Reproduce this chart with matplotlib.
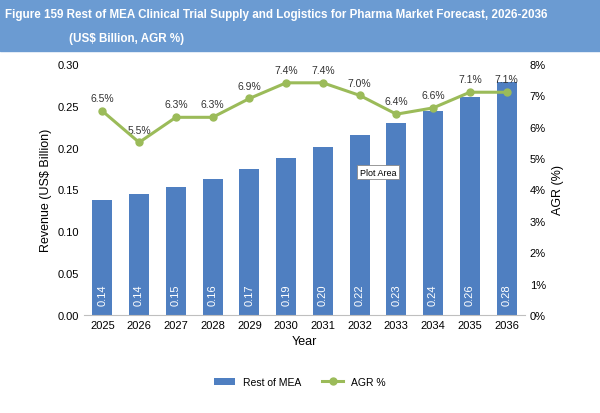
import matplotlib.pyplot as plt
import numpy as np

plt.rcParams['font.family'] = ['Liberation Sans', 'DejaVu Sans']

years = ['2025', '2026', '2027', '2028', '2029', '2030', '2031', '2032', '2033', '2034', '2035', '2036']
revenue = [0.137, 0.144, 0.153, 0.163, 0.174, 0.187, 0.201, 0.215, 0.229, 0.244, 0.261, 0.279]
rev_labels = ['0.14', '0.14', '0.15', '0.16', '0.17', '0.19', '0.20', '0.22', '0.23', '0.24', '0.26', '0.28']
agr = [6.5, 5.5, 6.3, 6.3, 6.9, 7.4, 7.4, 7.0, 6.4, 6.6, 7.1, 7.1]

fig = plt.figure(figsize=(6, 4.14), dpi=100)
fig.patch.set_facecolor('white')

# title banner
fig.patches.append(plt.Rectangle((0, 0.875), 1, 0.125, transform=fig.transFigure,
                                 color='#6b9bd2', zorder=0))
fig.text(0.008, 0.963, 'Figure 159 Rest of MEA Clinical Trial Supply and Logistics for Pharma Market Forecast, 2026-2036',
         color='white', fontsize=8.4, fontweight='bold', va='center', ha='left')
fig.text(0.115, 0.905, '(US$ Billion, AGR %)', color='white', fontsize=8.4,
         fontweight='bold', va='center', ha='left')

ax = fig.add_axes([0.14, 0.237, 0.735, 0.606])
x = np.arange(len(years))
bars = ax.bar(x, revenue, width=0.55, color='#4f7fc1', label='Rest of MEA', zorder=2)
for xi, v, lab in zip(x, revenue, rev_labels):
    ax.text(xi, 0.012, lab, rotation=90, color='white', fontsize=8,
            ha='center', va='bottom', zorder=3)
ax.set_ylim(0, 0.30)
ax.set_yticks(np.arange(0, 0.301, 0.05))
ax.set_yticklabels([f'{v:.2f}' for v in np.arange(0, 0.301, 0.05)], fontsize=8)
ax.set_xticks(x)
ax.set_xticklabels(years, fontsize=8)
ax.set_xlim(-0.5, len(years) - 0.5)
ax.set_ylabel('Revenue (US$ Billion)', fontsize=9)
ax.set_xlabel('Year', fontsize=9)
for s in ['top', 'right', 'left']:
    ax.spines[s].set_visible(False)
ax.spines['bottom'].set_color('#bfbfbf')
ax.tick_params(length=0)

ax2 = ax.twinx()
line, = ax2.plot(x, agr, color='#9bbb59', marker='o', markersize=5, linewidth=2.2,
                 label='AGR %', zorder=4)
for xi, v in zip(x, agr):
    ax2.text(xi, v + 0.25, f'{v:.1f}%', ha='center', va='bottom', fontsize=7.5, color='#333333')
ax2.set_ylim(0, 8)
ax2.set_yticks(range(0, 9))
ax2.set_yticklabels([f'{i}%' for i in range(0, 9)], fontsize=8)
ax2.set_ylabel('AGR (%)', fontsize=9)
for s in ['top', 'right', 'left', 'bottom']:
    ax2.spines[s].set_visible(False)
ax2.tick_params(length=0)

ax2.text(7.5, 4.55, 'Plot Area', fontsize=6.5, ha='center', va='center',
         bbox=dict(boxstyle='square,pad=0.3', fc='white', ec='#888888', lw=0.6), zorder=5)

fig.legend([bars, line], ['Rest of MEA', 'AGR %'], loc='lower center',
           bbox_to_anchor=(0.5, 0.04), ncol=2, frameon=False, fontsize=7.5)

fig.savefig('out.png', dpi=100)
